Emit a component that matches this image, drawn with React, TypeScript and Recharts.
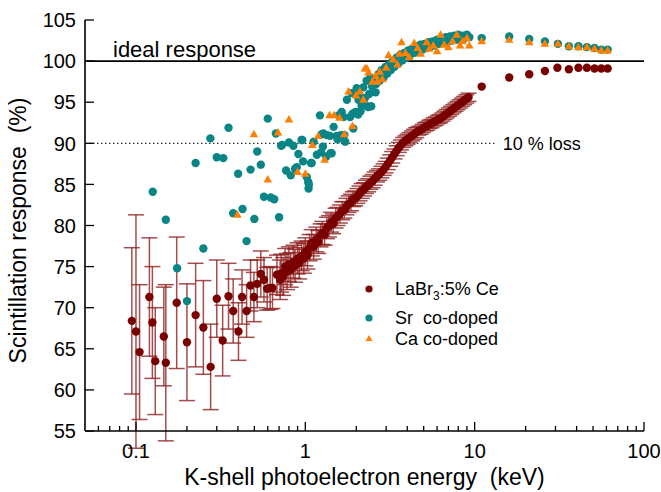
import React from 'react';
import { ScatterChart, Scatter, XAxis, YAxis, ErrorBar, ReferenceLine, Legend } from 'recharts';

const FONT = '"Liberation Sans", Arial, sans-serif';
const RED = '#7a0000';
const TEAL = '#0a8585';
const ORANGE = '#ff8000';

// LaBr3:5% Ce  (energy keV, response %, error %)
const laBrEnergy = [
  0.0945, 0.1, 0.105, 0.12, 0.125, 0.13, 0.146, 0.15, 0.174, 0.2, 0.225, 0.25, 0.276, 0.3, 0.325,
  0.352, 0.375, 0.403, 0.423, 0.45, 0.475, 0.497, 0.52, 0.546, 0.57, 0.595, 0.62, 0.64, 0.68, 0.71,
  0.72, 0.74, 0.76, 0.78, 0.8, 0.82, 0.85, 0.87, 0.9, 0.92, 0.95, 0.98, 1.0, 1.03, 1.06, 1.09, 1.12,
  1.16, 1.19, 1.23, 1.26, 1.3, 1.34, 1.38, 1.42, 1.46, 1.51, 1.55, 1.6, 1.65, 1.7, 1.75, 1.8, 1.86,
  1.91, 1.97, 2.03, 2.09, 2.15, 2.22, 2.28, 2.35, 2.42, 2.5, 2.57, 2.65, 2.73, 2.81, 2.9, 2.98, 3.07,
  3.17, 3.26, 3.36, 3.46, 3.57, 3.67, 3.78, 3.9, 4.01, 4.13, 4.26, 4.39, 4.52, 4.65, 4.79, 4.94, 5.09,
  5.24, 5.4, 5.56, 5.73, 5.9, 6.08, 6.26, 6.45, 6.64, 6.84, 7.05, 7.26, 7.48, 7.7, 7.93, 8.17, 8.42,
  8.67, 8.93, 9.2,
  11, 16, 21, 26, 30.8, 36, 41, 46, 51, 56, 61,
];
const laBrResponse = [
  68.4, 67.1, 64.6, 71.3, 68.2, 63.5, 66.5, 63.3, 70.6, 65.8, 69.1, 67.6, 62.8, 71.1, 66.0,
  71.4, 69.6, 67.1, 71.3, 69.6, 72.7, 71.3, 72.9, 74.1, 73.4, 72.3, 72.4, 72.4, 74.0, 73.4,
  74.2, 73.8, 75.0, 74.4, 75.3, 74.6, 75.6, 75.1, 76.0, 75.4, 76.3, 76.0, 76.8, 76.4, 77.3, 77.9, 77.4,
  78.3, 78.0, 78.8, 79.1, 78.9, 79.7, 79.9, 80.4, 80.2, 80.9, 81.1, 81.4, 81.8, 81.9, 82.3, 82.6, 82.8,
  83.2, 83.3, 83.6, 83.9, 84.2, 84.4, 84.7, 84.9, 85.2, 85.4, 85.7, 86.0, 86.2, 86.5, 86.8, 87.1, 87.5,
  87.9, 88.3, 88.7, 89.1, 89.5, 89.8, 90.1, 90.3, 90.5, 90.7, 90.9, 91.1, 91.3, 91.5, 91.6, 91.8, 92.0,
  92.1, 92.3, 92.4, 92.6, 92.7, 92.9, 93.0, 93.2, 93.4, 93.6, 93.8, 94.0, 94.2, 94.4, 94.6, 94.8, 95.0,
  95.2, 95.4, 95.6,
  96.9, 98.0, 98.4, 98.8, 99.2, 99.0, 99.2, 99.2, 99.1, 99.1, 99.1,
];
const laBrError = [
  8.9, 14.2, 8.2, 7.2, 6.8, 6.5, 6.0, 9.5, 8.0, 7.1, 6.3, 5.7, 5.2, 4.7, 4.3,
  4.0, 3.9, 3.5, 3.3, 3.2, 3.1, 3.0, 2.9, 2.8, 2.7, 2.6, 2.6, 2.5, 2.4, 2.4,
  2.3, 2.3, 2.2, 2.2, 2.1, 2.1, 2.0, 2.0, 1.9, 1.9, 1.8, 1.8, 1.7, 1.7, 1.6, 1.6, 1.5,
  1.5, 1.4, 1.4, 1.4, 1.3, 1.3, 1.3, 1.2, 1.2, 1.2, 1.1, 1.1, 1.1, 1.0, 1.0, 1.0, 1.0,
  0.9, 0.9, 0.9, 0.9, 0.9, 0.8, 0.8, 0.8, 0.8, 0.8, 0.8, 0.7, 0.7, 0.7, 0.7, 0.7, 0.7,
  0.7, 0.7, 0.6, 0.6, 0.6, 0.6, 0.6, 0.6, 0.6, 0.6, 0.6, 0.6, 0.6, 0.5, 0.5, 0.5, 0.5,
  0.5, 0.5, 0.5, 0.5, 0.5, 0.5, 0.5, 0.5, 0.5, 0.5, 0.5, 0.5, 0.5, 0.5, 0.5, 0.5, 0.5,
  0.5, 0.5, 0.5,
  null, null, null, null, null, null, null, null, null, null, null,
];

// Sr co-doped
const srEnergy = [
  0.1256, 0.15, 0.175, 0.2, 0.225, 0.25, 0.275, 0.3, 0.328, 0.352, 0.375, 0.401, 0.426, 0.45, 0.475,
  0.5, 0.52, 0.546, 0.57, 0.6, 0.625, 0.655, 0.67, 0.7, 0.72, 0.73, 0.77, 0.8, 0.82, 0.85, 0.87, 0.89,
  0.91, 0.95, 0.96, 0.97, 1.02, 1.04, 1.045, 1.05, 1.08, 1.09, 1.12, 1.17, 1.22, 1.24, 1.25, 1.27,
  1.28, 1.33, 1.34, 1.4, 1.41, 1.43, 1.47, 1.53, 1.55, 1.57, 1.62, 1.64, 1.68, 1.7, 1.72, 1.76, 1.84,
  1.88, 1.9, 1.92, 1.98, 2.01, 2.05, 2.06, 2.1, 2.12, 2.15, 2.2, 2.25, 2.28, 2.3, 2.35, 2.38, 2.42,
  2.45, 2.48, 2.55, 2.6, 2.62, 2.7, 2.75, 2.82, 2.9, 2.97, 3.05, 3.12, 3.2, 3.28, 3.36, 3.45, 3.55,
  3.65, 3.75, 3.85, 3.95, 4.05, 4.15, 4.27, 4.4, 4.52, 4.65, 4.78, 4.92, 5.05, 5.2, 5.35, 5.5, 5.65,
  5.82, 6.0, 6.17, 6.35, 6.55, 6.75, 6.95, 7.15, 7.35, 7.55, 7.8, 8.0, 8.25, 8.5, 8.75, 9.0, 9.3,
  11, 16, 21, 26, 31, 36, 41, 46, 51, 56, 61,
];
const srResponse = [
  84.1, 80.7, 74.8, 70.8, 87.6, 77.2, 90.6, 88.3, 88.2, 91.9, 81.5, 86.3, 82.0, 78.1, 86.8,
  80.8, 89.0, 87.4, 83.5, 93.0, 83.4, 83.2, 91.2, 81.0, 89.7, 89.8, 86.7, 90.1, 86.1, 89.7, 86.9, 87.1,
  88.7, 90.4, 90.4, 87.8, 85.9, 85.3, 84.5, 85.0, 87.6, 87.6, 90.2, 88.6, 93.4, 88.9, 91.1, 89.6,
  91.2, 88.4, 91.0, 90.9, 88.8, 88.8, 92.0, 90.9, 90.5, 93.4, 91.0, 93.8, 93.2, 91.0, 90.2, 95.3, 93.2,
  96.1, 93.6, 91.8, 93.8, 96.7, 93.5, 95.3, 95.8, 93.9, 94.6, 96.8, 95.5, 94.6, 97.6, 94.4, 96.0, 98.0,
  94.5, 96.9, 97.8, 96.2, 97.2, 98.4, 97.6, 98.9, 98.0, 99.3, 98.5, 99.6, 98.9, 100.0, 99.3, 100.4, 99.7,
  100.8, 100.1, 101.0, 100.4, 101.3, 100.7, 101.5, 101.0, 101.8, 101.2, 102.0, 101.4, 102.1, 101.6, 102.3, 101.8, 102.4,
  101.9, 102.6, 102.1, 102.7, 102.3, 102.9, 102.4, 103.0, 102.5, 103.1, 102.6, 103.2, 102.7, 103.1, 102.8, 103.2, 102.9,
  102.8, 103.0, 102.7, 102.4, 102.1, 101.8, 101.8, 101.7, 101.6, 101.4, 101.4,
];

// Ca co-doped
const caEnergy = [
  0.397, 0.497, 0.6, 0.69, 0.8, 0.9, 1.0, 1.1, 1.19, 1.3, 1.39, 1.48, 1.59, 1.7, 1.8, 1.9, 1.99,
  2.1, 2.2, 2.25, 2.31, 2.36, 2.49, 2.6, 2.66, 2.75, 2.85, 3.0, 3.1, 3.3, 3.5, 3.6, 3.7, 3.9, 4.1,
  4.4, 4.6, 4.8, 5.2, 5.4, 5.7, 6.0, 6.3, 6.6, 7.0, 7.4, 7.85, 8.2, 8.5, 9.0, 9.3,
  11, 16, 21, 26, 31, 36, 41, 46, 51, 56, 61,
];
const caResponse = [
  81.3, 91.1, 85.6, 91.3, 92.9, 86.5, 86.3, 89.8, 90.9, 88.0, 93.4, 93.4, 93.1, 91.1, 96.3, 92.1, 95.8,
  96.3, 95.3, 99.1, 99.1, 98.6, 97.5, 98.2, 97.5, 98.7, 97.8, 99.2, 100.7, 100.2, 99.6, 100.9, 102.3, 101.0, 100.5,
  102.2, 101.6, 100.9, 102.3, 101.5, 101.9, 101.2, 103.2, 102.0, 101.7, 102.4, 103.2, 101.9, 102.4, 102.8, 101.9,
  102.4, 102.6, 102.3, 102.1, 102.1, 101.8, 101.7, 101.7, 101.5, 101.3, 101.3,
];

const majorX = [0.1, 1, 10, 100];
const minorX = [0.06, 0.07, 0.08, 0.09, 0.2, 0.3, 0.4, 0.5, 0.6, 0.7, 0.8, 0.9,
  2, 3, 4, 5, 6, 7, 8, 9, 20, 30, 40, 50, 60, 70, 80, 90];
const xTicks = [...majorX, ...minorX].sort((a, b) => a - b);
const yTicks = [55, 60, 65, 70, 75, 80, 85, 90, 95, 100, 105];

const laBrData = laBrEnergy.map((x, i) => ({ x, y: laBrResponse[i], err: laBrError[i] }));
const srData = srEnergy.map((x, i) => ({ x, y: srResponse[i] }));
const caData = caEnergy.map((x, i) => ({ x, y: caResponse[i] }));

const XTick = (props: any) => {
  const { x, y, payload, top } = props;
  const v = payload.value;
  const major = majorX.includes(v);
  const len = major ? 9 : 5;
  const dir = top ? 1 : -1;
  return (
    <g>
      <line x1={x} x2={x} y1={y} y2={y + dir * len} stroke="#000" strokeWidth={1.3} />
      {!top && major && (
        <text x={x} y={y + 27} textAnchor="middle" fontSize={20} fontFamily={FONT} fill="#000">
          {v}
        </text>
      )}
    </g>
  );
};

const YTick = (props: any) => {
  const { x, y, payload, right } = props;
  const dir = right ? -1 : 1;
  return (
    <g>
      <line x1={x} x2={x + dir * 9} y1={y} y2={y} stroke="#000" strokeWidth={1.3} />
      {!right && (
        <text x={x - 9} y={y} dy="0.36em" textAnchor="end" fontSize={20} fontFamily={FONT} fill="#000">
          {payload.value}
        </text>
      )}
    </g>
  );
};

const dot = (color: string) => (p: any) => <circle cx={p.cx} cy={p.cy} r={4.2} fill={color} />;
const tri = (p: any) => (
  <polygon
    points={`${p.cx},${p.cy - 4.5} ${p.cx + 4.3},${p.cy + 3} ${p.cx - 4.3},${p.cy + 3}`}
    fill={ORANGE}
  />
);

const LegendBox = () => (
  <svg width={220} height={80} style={{ display: 'block' }}>
    <circle cx={9} cy={13} r={3.6} fill={RED} />
    <text x={35} y={19} fontSize={18} fontFamily={FONT} fill="#000">
      LaBr<tspan fontSize={12} dy={5}>3</tspan><tspan dy={-5}>:5% Ce</tspan>
    </text>
    <circle cx={9} cy={42} r={3.6} fill={TEAL} />
    <text x={35} y={48} fontSize={18} fontFamily={FONT} fill="#000" style={{ whiteSpace: 'pre' }}>
      Sr  co-doped
    </text>
    <polygon points="9,59 12.5,65 5.5,65" fill={ORANGE} />
    <text x={35} y={69} fontSize={18} fontFamily={FONT} fill="#000">
      Ca co-doped
    </text>
  </svg>
);

export default function App() {
  return (
    <div style={{ position: 'absolute', left: 0, top: 0, width: 661, height: 492, background: '#fff' }}>
      <ScatterChart width={661} height={492} margin={{ top: 20, right: 17, bottom: 0, left: 0 }}>
        <XAxis
          dataKey="x"
          type="number"
          scale="log"
          domain={[0.05, 100]}
          allowDataOverflow
          ticks={xTicks}
          interval={0}
          tickSize={0}
          tickMargin={0}
          height={61}
          axisLine={{ stroke: '#000', strokeWidth: 1.6 }}
          tick={(p: any) => <XTick {...p} />}
          label={(p: any) => {
            const vb = p.viewBox;
            return (
              <text x={vb.x + vb.width / 2} y={vb.y + 54} textAnchor="middle" fontSize={23} fontFamily={FONT} fill="#000" style={{ whiteSpace: 'pre' }}>
                K-shell photoelectron energy  (keV)
              </text>
            );
          }}
        />
        <XAxis
          xAxisId="top"
          orientation="top"
          type="number"
          scale="log"
          domain={[0.05, 100]}
          allowDataOverflow
          ticks={xTicks}
          interval={0}
          tickSize={0}
          tickMargin={0}
          height={0}
          axisLine={{ stroke: '#000', strokeWidth: 1.6 }}
          tick={(p: any) => <XTick {...p} top />}
        />
        <YAxis
          dataKey="y"
          type="number"
          domain={[55, 105]}
          allowDataOverflow
          ticks={yTicks}
          interval={0}
          tickSize={0}
          tickMargin={0}
          width={85}
          axisLine={{ stroke: '#000', strokeWidth: 1.6 }}
          tick={(p: any) => <YTick {...p} />}
          label={(p: any) => {
            const vb = p.viewBox;
            const cx = 18;
            const cy = vb.y + vb.height / 2 + 5;
            return (
              <text x={cx} y={cy} transform={`rotate(-90, ${cx}, ${cy})`} textAnchor="middle" dy="0.36em" fontSize={23} fontFamily={FONT} fill="#000" style={{ whiteSpace: 'pre' }}>
                Scintillation response  (%)
              </text>
            );
          }}
        />
        <YAxis
          yAxisId="right"
          orientation="right"
          type="number"
          domain={[55, 105]}
          allowDataOverflow
          ticks={yTicks}
          interval={0}
          tickSize={0}
          tickMargin={0}
          width={0}
          axisLine={{ stroke: '#000', strokeWidth: 1.6 }}
          tick={(p: any) => <YTick {...p} right />}
        />
        <ReferenceLine
          y={100}
          stroke="#000"
          strokeWidth={1.6}
          label={(p: any) => (
            <text x={p.viewBox.x + 28} y={p.viewBox.y - 4} fontSize={22} fontFamily={FONT} fill="#000">
              ideal response
            </text>
          )}
        />
        <ReferenceLine
          segment={[{ x: 0.05, y: 90 }, { x: 13.5, y: 90 }]}
          stroke="#000"
          strokeWidth={1}
          strokeDasharray="1.5 2.5"
          label={{ value: '10 % loss', position: 'right', offset: 6, fontSize: 18, fontFamily: FONT, fill: '#000' }}
        />
        <Scatter data={laBrData} fill={RED} shape={dot(RED)} isAnimationActive={false}>
          <ErrorBar dataKey="err" direction="y" width={8} stroke="#8e1f1f" strokeOpacity={0.8} strokeWidth={1.5} />
        </Scatter>
        <Scatter data={srData} fill={TEAL} shape={dot(TEAL)} isAnimationActive={false} />
        <Scatter data={caData} fill={ORANGE} shape={tri} isAnimationActive={false} />
        <Legend
          layout="vertical"
          align="center"
          verticalAlign="middle"
          wrapperStyle={{ left: 360, top: 276, width: 220 }}
          content={() => <LegendBox />}
        />
      </ScatterChart>
    </div>
  );
}
